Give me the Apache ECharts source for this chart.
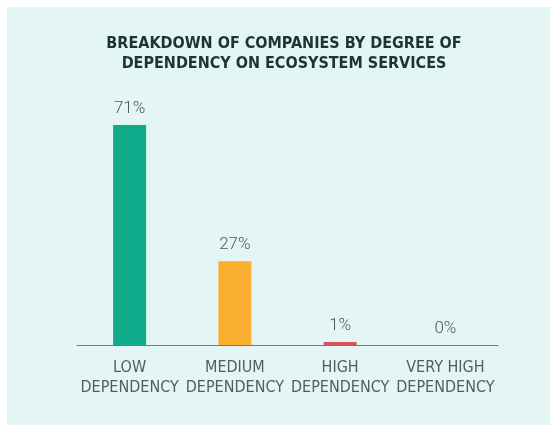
<!DOCTYPE html>
<html><head><meta charset="utf-8">
<script src="https://cdn.jsdelivr.net/npm/echarts@6/dist/echarts.min.js"></script>
<style>
html,body{margin:0;padding:0;background:#fff;}
#bg{position:absolute;left:7px;top:7px;width:543px;height:418px;background:#e4f5f5;}
#c{position:absolute;left:0;top:0;width:550px;height:425px;}
</style></head>
<body><div id="bg"></div><div id="c"></div>
<script>
const categories = ['LOW\nDEPENDENCY', 'MEDIUM\nDEPENDENCY', 'HIGH\nDEPENDENCY', 'VERY HIGH\nDEPENDENCY'];
const values = [71, 27, 1, 0];
const colors = ['#10ab8b', '#f8ae2e', '#d9555c', '#d9555c'];
const titleLines = 'BREAKDOWN OF COMPANIES BY DEGREE OF\nDEPENDENCY ON ECOSYSTEM SERVICES';

const chart = echarts.init(document.getElementById('c'), null, {renderer: 'canvas'});
chart.setOption({
  animation: false,
  title: {
    text: titleLines, left: 279, top: 29, textAlign: 'center',
    textStyle: {fontFamily: '"DejaVu Sans Condensed", sans-serif', fontWeight: 'bold', fontSize: 16, lineHeight: 20, color: '#1c3436'}
  },
  grid: {left: 77, right: 52, top: 97, bottom: 80},
  xAxis: {
    type: 'category', data: categories,
    axisLine: {lineStyle: {color: '#6e7b7b', width: 1}},
    axisTick: {show: false},
    axisLabel: {margin: 13, fontFamily: '"DejaVu Sans Condensed", sans-serif', fontSize: 16, lineHeight: 20, color: '#4f5e63', interval: 0}
  },
  yAxis: {type: 'value', min: 0, max: 80, show: false, splitLine: {show: false}},
  series: [{
    type: 'bar', barWidth: 33,
    data: values.map((v, i) => ({value: v, itemStyle: {color: colors[i]}})),
    label: {show: true, position: 'top', distance: 8, formatter: '{c}%', fontFamily: 'Roboto, sans-serif', fontWeight: 300, fontSize: 17, color: '#555'}
  }]
});
</script></body></html>
